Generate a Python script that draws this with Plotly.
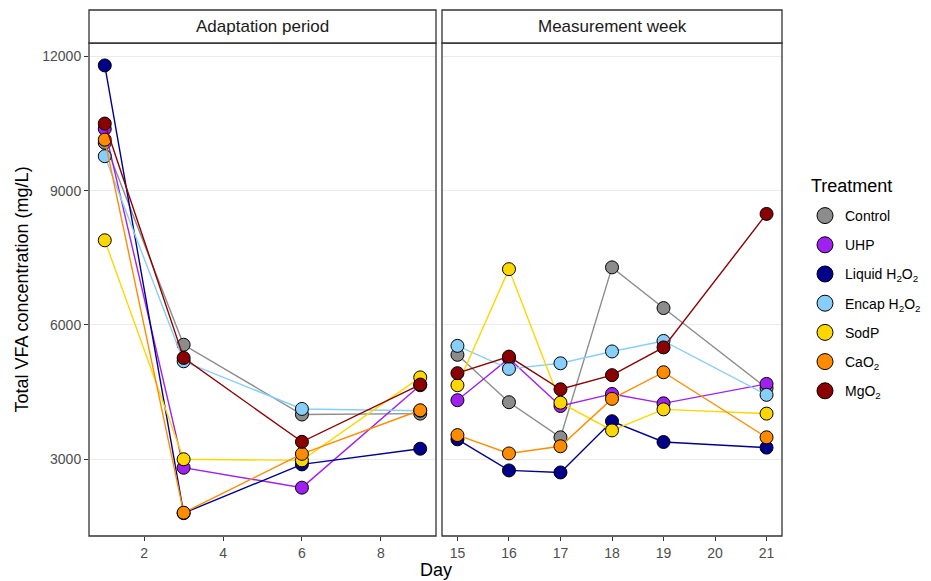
import plotly.graph_objects as go
from plotly.subplots import make_subplots

treatments = ["Control", "UHP", "Liquid H<sub>2</sub>O<sub>2</sub>", "Encap H<sub>2</sub>O<sub>2</sub>",
              "SodP", "CaO<sub>2</sub>", "MgO<sub>2</sub>"]
colors = ["#8C8C8C", "#A020F0", "#00008B", "#87CEFA", "#FFD700", "#FF8C00", "#8B0000"]

adapt_days = [1, 3, 6, 9]
meas_days = [15, 16, 17, 18, 19, 21]

adapt_control = [10070, 5555, 3995, 4015]
adapt_uhp = [10380, 2805, 2360, 4650]
adapt_liquid = [11800, 1790, 2880, 3230]
adapt_encap = [9770, 5185, 4120, 4080]
adapt_sodp = [7890, 2995, 2970, 4825]
adapt_cao2 = [10140, 1800, 3115, 4090]
adapt_mgo2 = [10500, 5260, 3385, 4665]

meas_control = [5330, 4270, 3485, 7285, 6375, 4585]
meas_uhp = [4315, 5250, 4185, 4455, 4245, 4680]
meas_liquid = [3440, 2745, 2700, 3845, 3380, 3255]
meas_encap = [5530, 5015, 5140, 5405, 5640, 4435]
meas_sodp = [4650, 7245, 4260, 3640, 4110, 4015]
meas_cao2 = [3535, 3125, 3285, 4345, 4940, 3485]
meas_mgo2 = [4920, 5290, 4560, 4875, 5495, 8480]

adapt_vals = [adapt_control, adapt_uhp, adapt_liquid, adapt_encap, adapt_sodp, adapt_cao2, adapt_mgo2]
meas_vals = [meas_control, meas_uhp, meas_liquid, meas_encap, meas_sodp, meas_cao2, meas_mgo2]

y_ticks = [3000, 6000, 9000, 12000]
y_ticktext = ["3000", "6000", "9000", "12000"]
left_ticks = [2, 4, 6, 8]
right_ticks = [15, 16, 17, 18, 19, 20, 21]
panel_titles = ["Adaptation period", "Measurement week"]
legend_title = "Treatment"

W, H = 931, 581
FONT = "Liberation Sans, Arial, sans-serif"

fig = make_subplots(rows=1, cols=2, shared_yaxes=True)

for i, name in enumerate(treatments):
    for col, (days, vals) in enumerate([(adapt_days, adapt_vals[i]), (meas_days, meas_vals[i])], start=1):
        fig.add_trace(go.Scatter(
            x=days, y=vals, mode="lines+markers", name=name,
            legendgroup=name, showlegend=False,
            line=dict(color=colors[i], width=1.4),
            marker=dict(color=colors[i], size=13, line=dict(color="black", width=1)),
        ), row=1, col=col)
    # legend entry (markers only, as in the reference key)
    fig.add_trace(go.Scatter(
        x=[None], y=[None], mode="markers", name=name, legendgroup=name, showlegend=True,
        marker=dict(color=colors[i], size=20, line=dict(color="black", width=1)),
    ), row=1, col=1)

px = lambda v: v / W
py = lambda v: 1 - v / H

xd1 = [px(89), px(436)]
xd2 = [px(442), px(782)]
yd = [py(536), py(43)]

axis_common = dict(showgrid=False, zeroline=False, showline=False, ticks="outside", ticklen=4,
                   tickcolor="#333333", tickwidth=1,
                   tickfont=dict(family=FONT, size=14, color="#4D4D4D"), automargin=False)

fig.update_layout(
    xaxis=dict(domain=xd1, range=[0.6, 9.4], tickvals=left_ticks, **axis_common),
    xaxis2=dict(domain=xd2, range=[14.7, 21.3], tickvals=right_ticks, **axis_common),
    yaxis=dict(domain=yd, range=[1279, 12301], tickvals=y_ticks, ticktext=y_ticktext,
               **{**axis_common, "showgrid": True, "gridcolor": "#EBEBEB", "gridwidth": 1}),
    yaxis2=dict(domain=yd, range=[1279, 12301], tickvals=y_ticks, showticklabels=False, ticks="",
                showgrid=True, gridcolor="#EBEBEB", gridwidth=1, zeroline=False, matches="y"),
)

shapes = []
annotations = []
for xr, xd, title in [("x", xd1, panel_titles[0]), ("x2", xd2, panel_titles[1])]:
    shapes.append(dict(type="rect", xref=xr + " domain", yref="y domain", x0=0, x1=1, y0=0, y1=1,
                       line=dict(color="#333333", width=1.3), fillcolor="rgba(0,0,0,0)", layer="above"))
    shapes.append(dict(type="rect", xref="paper", yref="paper", x0=xd[0], x1=xd[1], y0=py(43), y1=py(10),
                       line=dict(color="#333333", width=1.3), fillcolor="white"))
    annotations.append(dict(text=title, xref="paper", yref="paper", x=(xd[0] + xd[1]) / 2,
                            y=(py(43) + py(10)) / 2, showarrow=False, xanchor="center", yanchor="middle",
                            font=dict(family=FONT, size=17, color="#1A1A1A")))

annotations.append(dict(text="Day", xref="paper", yref="paper", x=(px(89) + px(782)) / 2, y=py(570),
                        showarrow=False, xanchor="center", yanchor="middle",
                        font=dict(family=FONT, size=18, color="black")))
annotations.append(dict(text="Total VFA concentration (mg/L)", xref="paper", yref="paper", x=px(22),
                        y=(yd[0] + yd[1]) / 2, showarrow=False, textangle=-90, xanchor="center",
                        yanchor="middle", font=dict(family=FONT, size=18, color="black")))
annotations.append(dict(text=legend_title, xref="paper", yref="paper", x=px(809), y=py(186),
                        showarrow=False, xanchor="left", yanchor="middle",
                        font=dict(family=FONT, size=18, color="black")))

fig.update_layout(
    width=W, height=H, margin=dict(l=0, r=0, t=0, b=0),
    plot_bgcolor="white", paper_bgcolor="white",
    shapes=shapes, annotations=annotations,
    font=dict(family=FONT, size=14, color="black"),
    legend=dict(x=px(805), y=py(200), xanchor="left", yanchor="top",
                font=dict(family=FONT, size=14), itemsizing="trace", tracegroupgap=8,
                bgcolor="rgba(0,0,0,0)"),
    showlegend=True,
)

fig.write_html("out.html")
